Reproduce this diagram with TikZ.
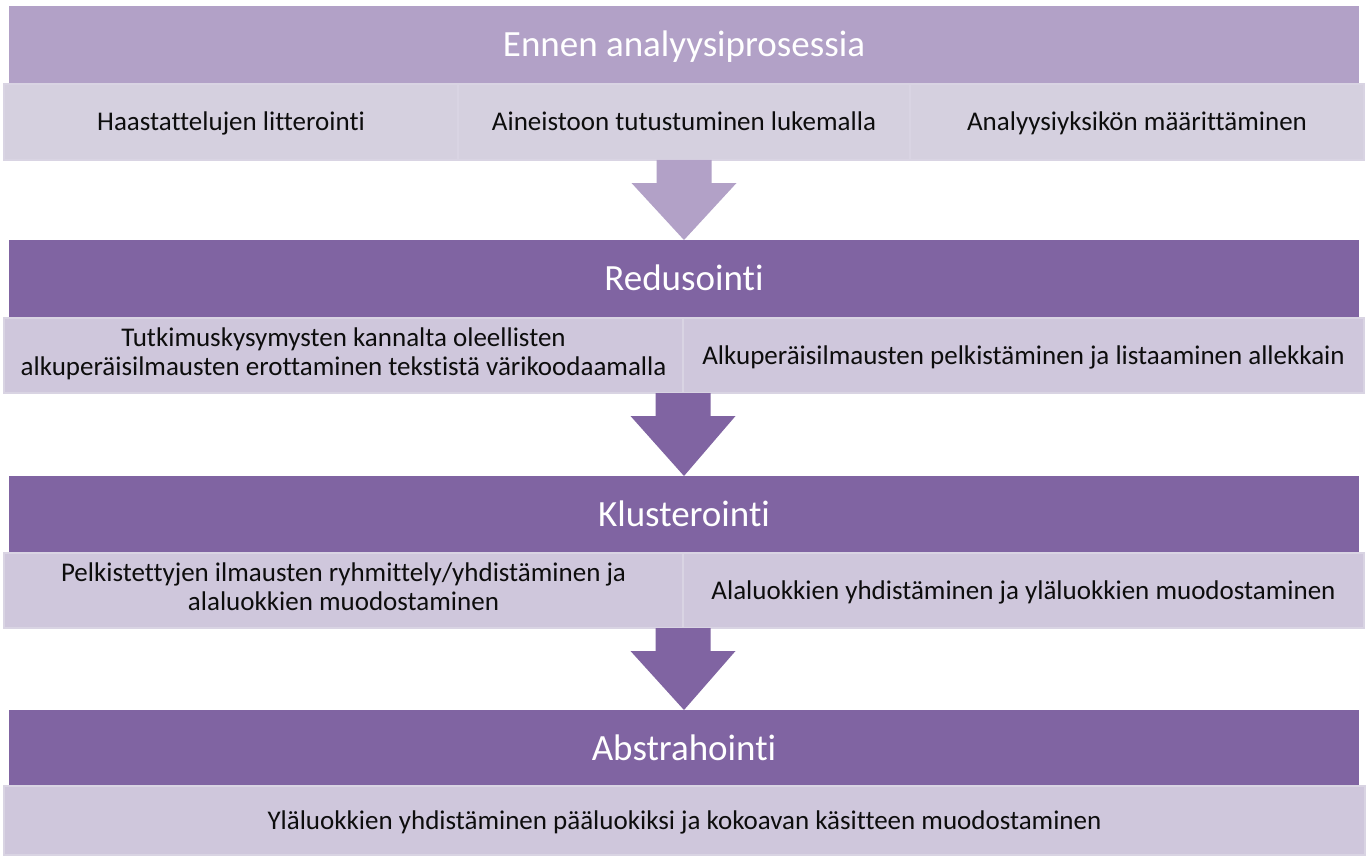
\documentclass[tikz,border=0pt]{standalone}
\usepackage{fontspec}
\setmainfont{Carlito}[Ligatures=NoCommon]
\usetikzlibrary{calc}

\definecolor{phaselight}{HTML}{B2A1C7}
\definecolor{phasedark}{HTML}{8064A2}
\definecolor{taskfirst}{HTML}{D5D0DF}
\definecolor{taskfill}{HTML}{CFC7DC}
\definecolor{taskrim}{HTML}{D9D4E3}

% centres a line on its capitals
\newcommand{\capstrut}{\rule[-0.3em]{0pt}{1.24em}}

\tikzset{
  phase/.style={fill=phasedark, text=white, anchor=north west,
    minimum width=1350pt, minimum height=78pt, inner sep=0pt, outer sep=0pt,
    font=\fontsize{37}{44}\selectfont, execute at begin node=\capstrut},
  task/.style={fill=taskfill, draw=taskrim, line width=2.5pt, text=black!95,
    anchor=north west, inner sep=0pt, outer sep=0pt, align=center,
    font=\fontsize{27}{28.5}\selectfont,
    execute at begin node=\capstrut, execute at end node=\capstrut},
}

% block arrow from #1 down to #2
\newcommand{\stepdown}[3]{%
  \fill[#3] let \p1=(#1), \p2=(#2) in
    (\x1-27.5pt,\y1) -- (\x1-27.5pt,\y1-23pt) -- (\x1-52.5pt,\y1-23pt)
    -- (\x2,\y2) -- (\x1+52.5pt,\y1-23pt) -- (\x1+27.5pt,\y1-23pt)
    -- (\x1+27.5pt,\y1) -- cycle;}

\begin{document}
\begin{tikzpicture}[x=1pt, y=-1pt]
  \useasboundingbox[fill=white] (0,0) rectangle (1368,856);
  % phase headers
  \node[phase, fill=phaselight] (h1) at (9,6) {Ennen analyysiprosessia};
  \node[phase] (h2) at (9,240) {Redusointi};
  \node[phase] (h3) at (9,476) {Klusterointi};
  \node[phase] (h4) at (9,710) {Abstrahointi};
  % tasks, row 1
  \node[task, fill=taskfirst, minimum width=454pt, minimum height=76pt] (t1a) at (4,84)
    {Haastattelujen litterointi};
  \node[task, fill=taskfirst, minimum width=452pt, minimum height=76pt] (t1b) at (458,84)
    {Aineistoon tutustuminen lukemalla};
  \node[task, fill=taskfirst, minimum width=454pt, minimum height=76pt] (t1c) at (910,84)
    {Analyysiyksikön määrittäminen};
  % arrows
  \stepdown{t1b.south}{h2.north}{phaselight}
  % tasks, row 2
  \node[task, minimum width=679pt, minimum height=75pt] (t2a) at (4,318)
    {Tutkimuskysymysten kannalta oleellisten\\alkuperäisilmausten erottaminen tekstistä värikoodaamalla};
  \node[task, minimum width=681pt, minimum height=75pt] (t2b) at (683,318)
    {Alkuperäisilmausten pelkistäminen ja listaaminen allekkain};
  \stepdown{t2a.south east}{h3.north}{phasedark}
  % tasks, row 3
  \node[task, minimum width=679pt, minimum height=75pt] (t3a) at (4,553)
    {Pelkistettyjen ilmausten ryhmittely/yhdistäminen ja\\alaluokkien muodostaminen};
  \node[task, minimum width=681pt, minimum height=75pt] (t3b) at (683,553)
    {Alaluokkien yhdistäminen ja yläluokkien muodostaminen};
  \stepdown{t3a.south east}{h4.north}{phasedark}
  % tasks, row 4
  \node[task, minimum width=1361pt, minimum height=69pt] (t4a) at (4,786)
    {Yläluokkien yhdistäminen pääluokiksi ja kokoavan käsitteen muodostaminen};
\end{tikzpicture}
\end{document}
